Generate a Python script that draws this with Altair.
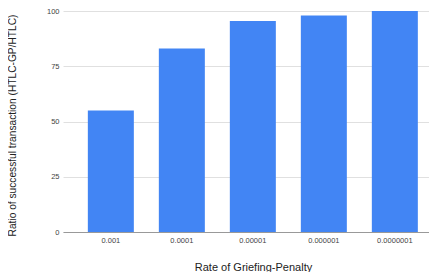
import altair as alt
import pandas as pd

rates = ["0.001", "0.0001", "0.00001", "0.000001", "0.0000001"]
ratios = [55, 83, 95.5, 98, 100]
y_ticks = [0, 25, 50, 75, 100]

df = pd.DataFrame({"rate": rates, "ratio": ratios})

chart = alt.Chart(df).mark_bar(color="#4285f4").encode(
    x=alt.X("rate:N", sort=rates,
            scale=alt.Scale(paddingInner=0.352, paddingOuter=0.2535, align=0.69),
            axis=alt.Axis(title="Rate of Griefing-Penalty", labelAngle=0, ticks=False,
                          labelFontSize=7.5, labelColor="#444", labelPadding=4,
                          domainColor="#999", domainWidth=1,
                          titleFontSize=11, titleFontWeight="normal", titleColor="#222",
                          titleX=190, titleY=35, titleBaseline="middle")),
    y=alt.Y("ratio:Q", scale=alt.Scale(domain=[0, 100], nice=False),
            axis=alt.Axis(title="Ratio of successful transaction (HTLC-GP/HTLC)", values=y_ticks,
                          ticks=False, domain=False, labelFontSize=7.5, labelColor="#444",
                          labelPadding=4, gridColor="#e0e0e0",
                          titleFontSize=10.2, titleFontWeight="normal", titleColor="#222",
                          titleX=-51, titleY=114, titleBaseline="middle")),
).properties(
    width=366, height=221,
    autosize=alt.AutoSizeParams(type="none"),
    padding={"left": 55, "top": 3, "right": 0, "bottom": 40},
).configure(font="Liberation Sans").configure_view(stroke=None)

chart.save("out.html", embed_options={"renderer": "svg", "actions": False})
